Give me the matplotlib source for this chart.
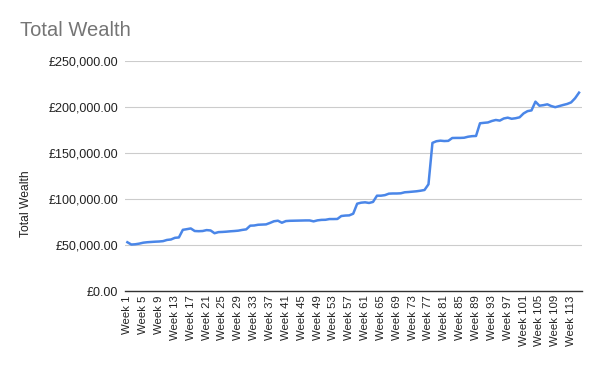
import matplotlib.pyplot as plt
import matplotlib as mpl
from matplotlib.ticker import FuncFormatter

weeks = ['Week {}'.format(i) for i in range(1, 116)]

wealth = [
    53000, 50500, 50800, 51500, 52500, 53000, 53300, 53600, 53800, 54200,
    55500, 56000, 57800, 58200, 66500, 67200, 68000, 65200, 65000, 65200,
    66200, 65800, 62800, 64000, 64200, 64500, 64900, 65200, 65600, 66400,
    67000, 71000, 71200, 72000, 72200, 72400, 74000, 75800, 76400, 74200,
    76000, 76300, 76400, 76500, 76600, 76700, 76700, 75700, 76800, 77300,
    77400, 78200, 78200, 78300, 81500, 82000, 82200, 84000, 94900, 96000,
    96400, 95700, 96800, 103600, 103600, 104200, 105800, 106000, 106000, 106200,
    107300, 107600, 108000, 108400, 109000, 109800, 116000, 161000, 162800, 163400,
    163000, 163200, 166300, 166400, 166400, 166600, 167700, 168300, 168500, 182300,
    182800, 183200, 184800, 185900, 185200, 187500, 188400, 187200, 187800, 188800,
    193000, 195500, 196300, 205800, 201400, 202000, 202900, 201000, 199800, 201000,
    202200, 203300, 205000, 209500, 215600,
]

yticks = [0, 50000, 100000, 150000, 200000, 250000]

mpl.rc('font', family=['Liberation Sans', 'DejaVu Sans'], size=8)

fig = plt.figure(figsize=(6, 3.71), dpi=100)
ax = fig.add_axes([125/600, 80/371, 457/600, 230/371])

x = list(range(len(wealth)))
ax.plot(x, wealth, color='#4a86e8', linewidth=1.8)

ax.set_ylim(0, 250000)
ax.set_yticks(yticks)
ax.yaxis.set_major_formatter(FuncFormatter(lambda v, p: '£{:,.2f}'.format(v)))
ax.set_xlim(-0.6, len(wealth) - 0.25)
ax.set_xticks(x[::4])
ax.set_xticklabels(weeks[::4], rotation=90)

ax.grid(axis='y', color='#cccccc', linewidth=0.8)
ax.set_axisbelow(True)
for s in ['top', 'right', 'left']:
    ax.spines[s].set_visible(False)
ax.spines['bottom'].set_color('#333333')
ax.spines['bottom'].set_linewidth(1)
ax.tick_params(axis='both', length=0, colors='#222222')
ax.tick_params(axis='y', pad=5, labelsize=9)
ax.tick_params(axis='x', pad=3, labelsize=8.2)

ax.set_ylabel('Total Wealth', fontsize=8.7, color='#222222')
ax.yaxis.set_label_coords(-0.2035, 0.378)

fig.text(20/600, 1 - 31/371, 'Total Wealth', fontsize=14.5, color='#757575',
         va='center', ha='left')

fig.savefig('out.png', dpi=100, facecolor='white')
